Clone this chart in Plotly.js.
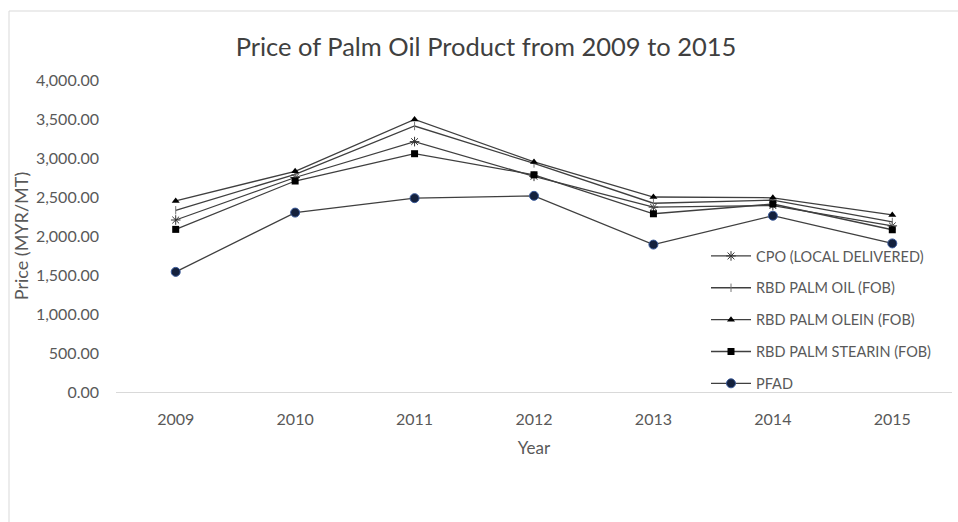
<!DOCTYPE html>
<html>
<head>
<meta charset="utf-8">
<script src="https://cdn.plot.ly/plotly-3.0.1.min.js"></script>
<style>
html,body{margin:0;padding:0;background:#fff;}
#chart{width:958px;height:522px;}
</style>
</head>
<body>
<div id="chart"></div>
<script>
const years = ["2009","2010","2011","2012","2013","2014","2015"];
const seriesNames = ["CPO (LOCAL DELIVERED)","RBD PALM OIL (FOB)","RBD PALM OLEIN (FOB)","RBD PALM STEARIN (FOB)","PFAD"];
const cpo     = [2205, 2750, 3210, 2765, 2370, 2390, 2130];
const rbdOil  = [2330, 2790, 3410, 2930, 2420, 2460, 2180];
const olein   = [2450, 2830, 3495, 2950, 2500, 2490, 2270];
const stearin = [2085, 2705, 3055, 2785, 2285, 2410, 2080];
const pfad    = [1540, 2300, 2485, 2515, 1890, 2260, 1905];
const yTicks  = [0, 500, 1000, 1500, 2000, 2500, 3000, 3500, 4000];

const FONT = "Lato, 'Open Sans', sans-serif";
const lineStyle = {color:"#3f3f3f", width:1.3};
const values = [cpo, rbdOil, olein, stearin, pfad];
const markers = [
  {symbol:"asterisk-open", size:8, color:"#333", line:{color:"#333", width:1}},
  {symbol:"line-ns-open", size:6, color:"#777", line:{color:"#777", width:1}},
  {symbol:"triangle-up", size:7, color:"#000", line:{color:"#000", width:0}},
  {symbol:"square", size:7, color:"#000", line:{color:"#000", width:0}},
  {symbol:"circle", size:9, color:"#14213d", line:{color:"#3a5a9a", width:1}}
];

const traces = seriesNames.map((n, i) => ({
  x: years, y: values[i], name: n, type: "scatter", mode: "lines+markers",
  line: lineStyle, marker: markers[i], legendgroup: "g" + i
}));

const L = 116, R = 6, T = 80, B = 130;
const W = 958, H = 522;
const pw = W - L - R, ph = H - T - B;
const px = v => (v - L) / pw;
const py = v => (H - B - v) / ph;

const layout = {
  width: W, height: H,
  margin: {l: L, r: R, t: T, b: B, pad: 0},
  paper_bgcolor: "#fff", plot_bgcolor: "#fff",
  font: {family: FONT, color: "#595959", size: 16},
  title: {text: "Price of Palm Oil Product from 2009 to 2015",
          font: {family: FONT, size: 25.5, color: "#404040"},
          x: 486 / W, xref: "container", xanchor: "center", y: 1 - 47 / H, yanchor: "middle"},
  xaxis: {type: "category", range: [-0.5, 6.5], showgrid: false, zeroline: false,
          showline: true, linecolor: "#d9d9d9", linewidth: 1, ticks: "",
          ticklabelstandoff: 13,
          tickfont: {family: FONT, size: 16, color: "#595959"},
          title: {text: "Year", font: {family: FONT, size: 17, color: "#595959"}, standoff: 14}},
  yaxis: {range: [0, 4000], tickvals: yTicks, tickformat: ",.2f", showgrid: false,
          zeroline: false, showline: false, ticks: "", ticklabelstandoff: 16,
          tickfont: {family: FONT, size: 16, color: "#595959"},
          title: {text: "Price (MYR/MT)", font: {family: FONT, size: 18, color: "#595959"}, standoff: 2}},
  showlegend: true,
  legend: {x: px(706), y: py(240), xanchor: "left", yanchor: "top",
           bgcolor: "rgba(255,255,255,0)", borderwidth: 0,
           font: {family: FONT, size: 14.5, color: "#595959"},
           traceorder: "grouped", tracegroupgap: 10, itemwidth: 40},
  shapes: [{type: "rect", xref: "paper", yref: "paper",
            x0: px(9), x1: px(962), y0: py(526), y1: py(11),
            line: {color: "#d9d9d9", width: 1}, fillcolor: "rgba(0,0,0,0)", layer: "below"}]
};

Plotly.newPlot("chart", traces, layout, {displayModeBar: false, staticPlot: true});
</script>
</body>
</html>
